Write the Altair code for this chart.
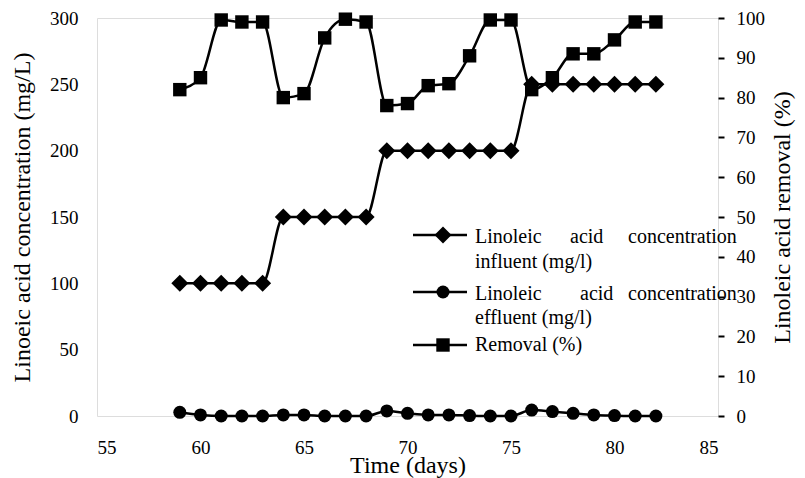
import altair as alt
import pandas as pd

# ---- data ----
days = [59, 60, 61, 62, 63, 64, 65, 66, 67, 68, 69, 70,
        71, 72, 73, 74, 75, 76, 77, 78, 79, 80, 81, 82]
influent = [100, 100, 100, 100, 100, 150, 150, 150, 150, 150, 200, 200,
            200, 200, 200, 200, 200, 250, 250, 250, 250, 250, 250, 250]
effluent = [2.8, 0.8, 0, 0, 0, 0.8, 0.8, 0, 0, 0, 3.8, 2.0,
            0.8, 0.8, 0.3, 0, 0, 4.5, 3.3, 2.0, 0.8, 0.3, 0, 0]
removal = [82, 85, 99.5, 99, 99, 80, 81, 95, 99.7, 99, 78, 78.5,
           83, 83.5, 90.5, 99.5, 99.5, 82, 85, 91, 91, 94.5, 99, 99]

x_ticks = [55, 60, 65, 70, 75, 80, 85]
left_ticks = [0, 50, 100, 150, 200, 250, 300]
right_ticks = [0, 10, 20, 30, 40, 50, 60, 70, 80, 90, 100]

legend_row1 = ["Linoleic", "acid", "concentration"]
legend_row1b = "influent (mg/l)"
legend_row2 = ["Linoleic", "acid", "concentration"]
legend_row2b = "effluent (mg/l)"
legend_row3 = "Removal (%)"

FONT = "'Liberation Serif', 'Times New Roman', serif"
W, H = 621, 398

df = pd.DataFrame({"day": days, "influent": influent,
                   "effluent": effluent, "removal": removal})

x_enc = alt.X("day:Q",
              scale=alt.Scale(domain=[55, 85], nice=False, zero=False),
              axis=alt.Axis(values=x_ticks, title="Time (days)", ticks=False,
                            domain=False, grid=False, labelPadding=22,
                            titlePadding=-4, labelFontSize=19, titleFontSize=24,
                            labelFont=FONT, titleFont=FONT, labelColor="black",
                            titleColor="black", titleFontWeight="normal"))

left_scale = alt.Scale(domain=[0, 300], nice=False)
left_axis = alt.Axis(values=left_ticks, title="Linoeic acid concentration (mg/L)",
                     ticks=False, domain=False, grid=False, labelPadding=19,
                     titlePadding=15, labelFontSize=19, titleFontSize=24,
                     labelFont=FONT, titleFont=FONT, labelColor="black",
                     titleColor="black", titleFontWeight="normal")
right_scale = alt.Scale(domain=[0, 100], nice=False)
right_axis = alt.Axis(values=right_ticks, title="Linoleic acid removal (%)",
                      orient="right", ticks=True, tickSize=6, tickWidth=2,
                      tickColor="black", domain=False, grid=False,
                      labelPadding=12, titlePadding=30, titleAngle=270,
                      labelFontSize=19, titleFontSize=24, labelFont=FONT,
                      titleFont=FONT, labelColor="black", titleColor="black",
                      titleFontWeight="normal")

base = alt.Chart(df)
LW = 2.5

inf_line = base.mark_line(color="black", strokeWidth=LW, interpolate="monotone").encode(
    x=x_enc, y=alt.Y("influent:Q", scale=left_scale, axis=left_axis))
inf_pts = base.mark_point(shape="diamond", filled=True, size=289, color="black", opacity=1).encode(
    x=x_enc, y=alt.Y("influent:Q", scale=left_scale, axis=left_axis))
eff_line = base.mark_line(color="black", strokeWidth=LW, interpolate="monotone").encode(
    x=x_enc, y=alt.Y("effluent:Q", scale=left_scale, axis=left_axis))
eff_pts = base.mark_point(shape="circle", filled=True, size=169, color="black", opacity=1).encode(
    x=x_enc, y=alt.Y("effluent:Q", scale=left_scale, axis=left_axis))

left = alt.layer(inf_line, inf_pts, eff_line, eff_pts)

rem_line = base.mark_line(color="black", strokeWidth=LW, interpolate="monotone").encode(
    x=x_enc, y=alt.Y("removal:Q", scale=right_scale, axis=right_axis))
rem_pts = base.mark_point(shape="square", filled=True, size=180, color="black", opacity=1).encode(
    x=x_enc, y=alt.Y("removal:Q", scale=right_scale, axis=right_axis))

right = alt.layer(rem_line, rem_pts)

# ---- manual legend (pixel positions inside the plot area) ----
one = pd.DataFrame({"k": [0]})
LFS = 20


def leg_symbol(y, shape, size):
    rule = alt.Chart(one).mark_rule(color="black", strokeWidth=LW).encode(
        x=alt.value(316), x2=alt.value(370), y=alt.value(y))
    pt = alt.Chart(one).mark_point(shape=shape, filled=True, size=size,
                                   color="black", opacity=1).encode(
        x=alt.value(346), y=alt.value(y))
    return [rule, pt]


def leg_text(txt, xpx, ypx):
    return alt.Chart(one).mark_text(text=txt, font=FONT, fontSize=LFS, align="left",
                                    baseline="middle", color="black").encode(
        x=alt.value(xpx), y=alt.value(ypx))


legend_layers = []
legend_layers += leg_symbol(217, "diamond", 289)
legend_layers += leg_symbol(274, "circle", 169)
legend_layers += leg_symbol(327, "square", 180)
row1_x = [378, 473, 531]
row2_x = [378, 483, 531]
for w, xp in zip(legend_row1, row1_x):
    legend_layers.append(leg_text(w, xp, 219))
legend_layers.append(leg_text(legend_row1b, 378, 244))
for w, xp in zip(legend_row2, row2_x):
    legend_layers.append(leg_text(w, xp, 276))
legend_layers.append(leg_text(legend_row2b, 378, 300))
legend_layers.append(leg_text(legend_row3, 378, 327))

chart = alt.layer(left, right, *legend_layers).resolve_scale(y="independent").properties(
    width=W, height=H,
    autosize=alt.AutoSizeParams(type="none"),
    padding={"left": 89, "top": 10, "right": 79, "bottom": 62},
).configure_view(stroke="black", strokeWidth=2).configure(background="white")

chart.save("out.html", embed_options={"renderer": "svg", "actions": False})
